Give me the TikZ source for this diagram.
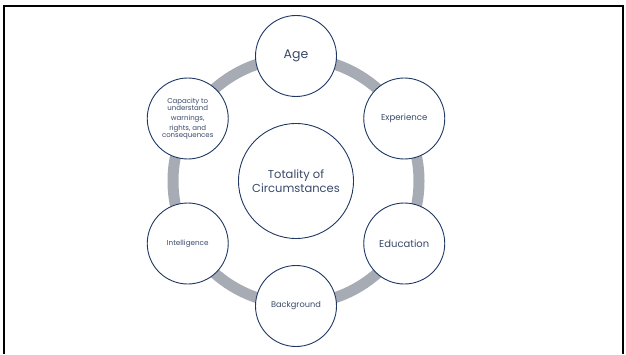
\documentclass[tikz,border=0pt]{standalone}
\usepackage{fontspec}
\setmainfont{Poppins}
\usetikzlibrary{positioning,calc}
\definecolor{ringgray}{HTML}{A7ABB3}
\definecolor{edgenavy}{HTML}{1F3864}
\definecolor{inknavy}{HTML}{3A4A6A}

\begin{document}
\begin{tikzpicture}[x=1pt, y=1pt,
  factor/.style={draw=edgenavy, line width=0.9pt, fill=white, circle, minimum size=81pt, inner sep=1pt, text=inknavy, align=center},
  core/.style={draw=edgenavy, line width=0.9pt, fill=white, circle, minimum size=115pt, text=inknavy, align=center, font=\fontsize{11.5}{13.5}\selectfont}]
\useasboundingbox (0,0) rectangle (626,354);
\draw[line width=2pt] (4,0) -- (4,348) -- (623,348) -- (623,0);
\coordinate (C) at (296,173);
\draw[ringgray, line width=11pt] (C) circle (123);
\node[core] (T) at (C) {Totality of\\Circumstances};
\node[factor, font=\fontsize{12.5}{14}\selectfont] (A) at ($(C)+(90:125)$) {Age};
\node[factor, font=\fontsize{8.6}{10}\selectfont] (X) at ($(C)+(30:125)$) {Experience};
\node[factor, font=\fontsize{10}{12}\selectfont] (D) at ($(C)+(-30:125)$) {Education};
\node[factor, font=\fontsize{8.2}{10}\selectfont] (B) at ($(C)+(-90:125)$) {Background};
\node[factor, font=\fontsize{7.2}{9}\selectfont] (I) at ($(C)+(-150:125)$) {Intelligence};
\node[factor, font=\fontsize{7}{7.5}\selectfont] (P) at ($(C)+(150:125)$) {Capacity to\\[-0.5pt] understand\\[3pt] warnings,\\[2.5pt] rights, and\\[-1pt] consequences};
\end{tikzpicture}
\end{document}
